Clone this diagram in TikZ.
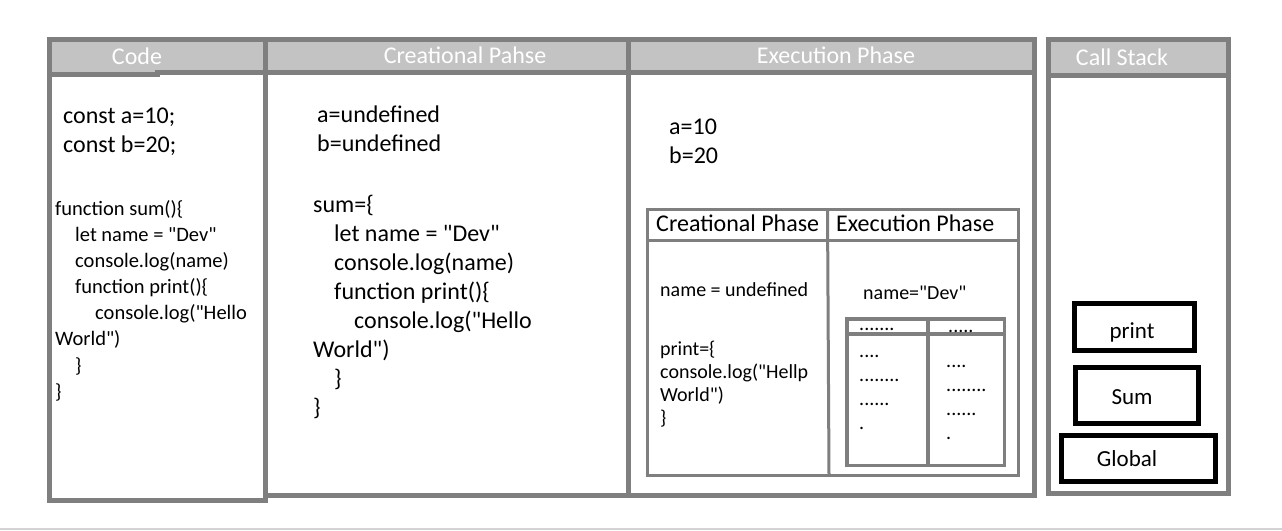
\documentclass[tikz,border=0pt]{standalone}
\usepackage{fontspec}
\setmainfont{Carlito}[Ligatures=TeXOff]
\definecolor{framegray}{HTML}{7F7F7F}
\definecolor{headgray}{HTML}{C3C3C3}
\definecolor{rulegray}{HTML}{D3D3D3}

\begin{document}
\begin{tikzpicture}[x=1pt,y=-1pt,
		colbox/.style={draw=framegray,line width=5pt},
		tablebox/.style={draw=framegray,line width=3pt},
		stackbox/.style={draw=black,line width=5pt},
		headtxt/.style={anchor=base,inner sep=0,text=white,font=\fontsize{24}{29}\selectfont},
		bigtxt/.style={anchor=base west,inner sep=0,font=\fontsize{24}{29}\selectfont},
		smalltxt/.style={anchor=base west,inner sep=0,font=\fontsize{20.5}{25}\selectfont},
		celltxt/.style={anchor=base west,inner sep=0,font=\fontsize{20}{24}\selectfont},
		stacktxt/.style={anchor=base,inner sep=0,font=\fontsize{23}{28}\selectfont}]
	\useasboundingbox (0,0) rectangle (1282,530);
	\fill[white] (0,0) rectangle (1282,530);
	\draw[rulegray,line width=1.5pt] (0,529) -- (1282,529);
	
	% header bands
	\fill[headgray] (49.5,39) rectangle (628.5,73);
	\fill[headgray] (628.5,39) rectangle (1034,73);
	\fill[headgray] (1048.5,39.5) rectangle (1226.5,75);
	
	% columns
	\draw[colbox] (49.5,39) rectangle (265.5,500);
	\draw[colbox] (265.5,39) rectangle (628.5,495);
	\draw[colbox] (628.5,39) rectangle (1034,495);
	\draw[colbox] (1048.5,39.5) rectangle (1228,493);
	\draw[colbox] (49.5,74.5) -- (157,74.5) -- (157,72.5) -- (1034,72.5);
	\draw[colbox] (1048.5,75.5) -- (1228,75.5);
	
	\node[headtxt] (codehead) at (137,64) {Code};
	\node[headtxt] (creahead) at (465,63) {Creational Pahse};
	\node[headtxt] (exechead) at (836,63) {Execution Phase};
	\node[headtxt] (stackhead) at (1122,65) {Call Stack};
	
	% code column
	\node[bigtxt] (consta) at (63,123) {const a=10;};
	\node[bigtxt] (constb) at (63,152) {const b=20;};
	\foreach \i/\y/\x/\t in {1/215/55/{function sum()\{},2/241/75/{let name = "Dev"},
		3/267/75/{console.log(name)},4/293/75/{function print()\{},
		5/319/95/{console.log("Hello},6/345/55/{World")},7/372/75/{\}},8/398/55/{\}}}
		\node[smalltxt] (code\i) at (\x,\y) {\t};
	
	% creational column
	\node[bigtxt] (undefa) at (317,122) {a=undefined};
	\node[bigtxt] (undefb) at (317,151) {b=undefined};
	\foreach \i/\y/\x/\t in {1/212/313/{sum=\{},2/241/334/{let name = "Dev"},
		3/270/334/{console.log(name)},4/299/334/{function print()\{},
		5/328/354/{console.log("Hello},6/357/313/{World")},7/386/334/{\}},8/415/313/{\}}}
		\node[bigtxt] (crea\i) at (\x,\y) {\t};
	
	% execution column
	\node[bigtxt] (vala) at (669,134) {a=10};
	\node[bigtxt] (valb) at (669,163) {b=20};
	
	\draw[tablebox] (647.5,209) rectangle (1018.5,475);
	\draw[tablebox] (647.5,240.5) -- (1018.5,240.5);
	\draw[tablebox] (827.5,209) -- (829,475);
	\node[bigtxt] (innercrea) at (656,231) {Creational Phase};
	\node[bigtxt] (innerexec) at (836,231) {Execution Phase};
	
	\node[celltxt] (nameundef) at (660,296) {name = undefined};
	\foreach \i/\y/\t in {1/355/{print=\{},2/378/{console.log("Hellp},3/401/{World")},4/424/{\}}}
		\node[celltxt] (printfn\i) at (660,\y) {\t};
	\node[celltxt] (namedev) at (863,299) {name="Dev"};
	
	\draw[tablebox,line width=3.5pt] (847,319) rectangle (1004.5,465.5);
	\draw[tablebox,line width=3.5pt] (847,334) -- (1004.5,334);
	\draw[tablebox,line width=3.5pt] (928,319) -- (928,465.5);
	\node[celltxt] (dotheadl) at (859,330) {.......};
	\node[celltxt] (dotheadr) at (948,332) {.....};
	\foreach \i/\y/\t in {1/357/{....},2/381/{........},3/405/{......},4/429/{.}}
		\node[celltxt] (dotl\i) at (859,\y) {\t};
	\foreach \i/\y/\t in {1/367/{....},2/391/{........},3/415/{......},4/439/{.}}
		\node[celltxt] (dotr\i) at (946,\y) {\t};
	
	% call stack
	\draw[stackbox] (1074.5,303.5) rectangle (1194.5,350.5);
	\draw[stackbox] (1075.5,367.5) rectangle (1198.5,423.5);
	\draw[stackbox] (1061.5,435.5) rectangle (1215.5,481);
	\node[stacktxt] (print) at (1132,338) {print};
	\node[stacktxt] (sum) at (1132,404) {Sum};
	\node[stacktxt] (global) at (1127,466) {Global};
\end{tikzpicture}
\end{document}
